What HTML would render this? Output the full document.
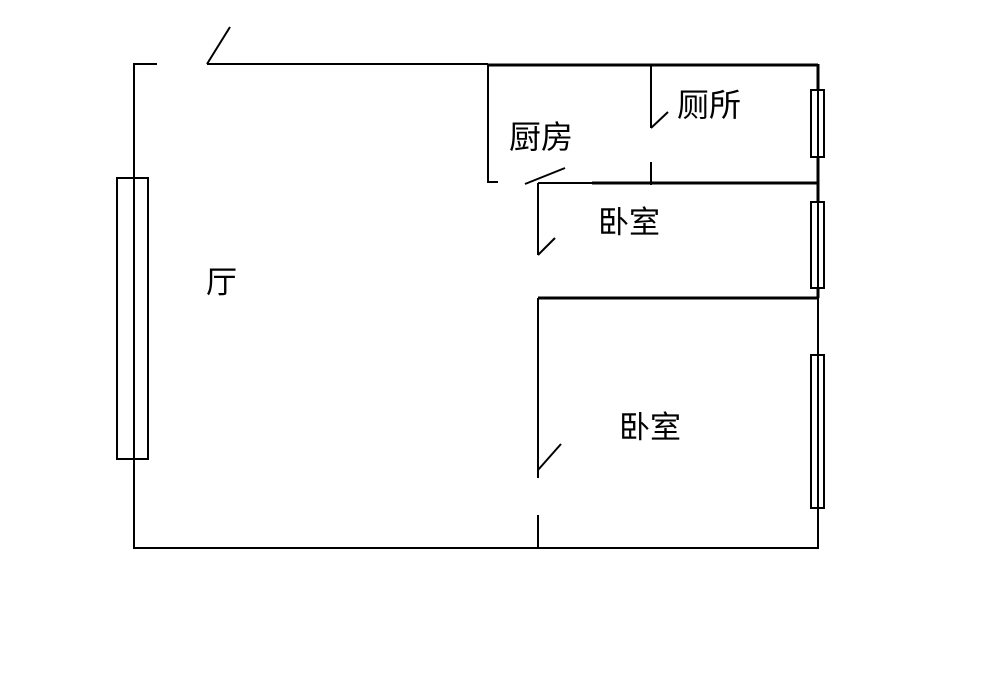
<!DOCTYPE html>
<html><head><meta charset="utf-8"><style>
html,body{margin:0;padding:0;background:#fff;width:1000px;height:697px;overflow:hidden}
svg{display:block}
text{font-family:"Liberation Sans","Noto Sans CJK SC","WenQuanYi Zen Hei",sans-serif;fill:#000}
</style></head><body>
<svg width="1000" height="697" viewBox="0 0 1000 697" xmlns="http://www.w3.org/2000/svg">
<g stroke="#000" fill="none" stroke-width="2">
<polyline points="157,64 134,64 134,548 818,548 818,64"/>
<line x1="207" y1="64" x2="488" y2="64"/>
<line x1="207" y1="64" x2="230" y2="27"/>
<rect x="117" y="178" width="31" height="281" fill="#fff"/>
<line x1="134" y1="178" x2="134" y2="459"/>
<line x1="488" y1="65" x2="818" y2="65" stroke-width="3"/>
<polyline points="488,65 488,182 498,182"/>
<line x1="525" y1="184" x2="565" y2="168"/>
<line x1="538" y1="183" x2="592" y2="183"/>
<line x1="592" y1="183" x2="818" y2="183" stroke-width="3"/>
<line x1="651" y1="65" x2="651" y2="128"/>
<line x1="651" y1="162" x2="651" y2="185"/>
<line x1="651" y1="128" x2="668" y2="112"/>
<line x1="818" y1="64" x2="818" y2="298" stroke-width="3"/>
<line x1="538" y1="183" x2="538" y2="255"/>
<line x1="538" y1="255" x2="555" y2="238"/>
<line x1="538" y1="298" x2="818" y2="298" stroke-width="3"/>
<line x1="538" y1="298" x2="538" y2="478"/>
<line x1="538" y1="470" x2="561" y2="444"/>
<line x1="538" y1="515" x2="538" y2="548"/>
<rect x="811" y="90" width="13" height="67" fill="#fff"/>
<rect x="811" y="202" width="13" height="86" fill="#fff"/>
<rect x="811" y="355" width="13" height="153" fill="#fff"/>
<line x1="818" y1="90" x2="818" y2="157"/>
<line x1="818" y1="202" x2="818" y2="288"/>
<line x1="818" y1="355" x2="818" y2="508"/>
</g>
<text x="206" y="293" font-size="31">厅</text>
<text x="509" y="148" font-size="32">厨房</text>
<text x="677" y="116" font-size="32">厕所</text>
<text x="598" y="233" font-size="31">卧室</text>
<text x="619" y="438" font-size="31">卧室</text>
</svg>
</body></html>
